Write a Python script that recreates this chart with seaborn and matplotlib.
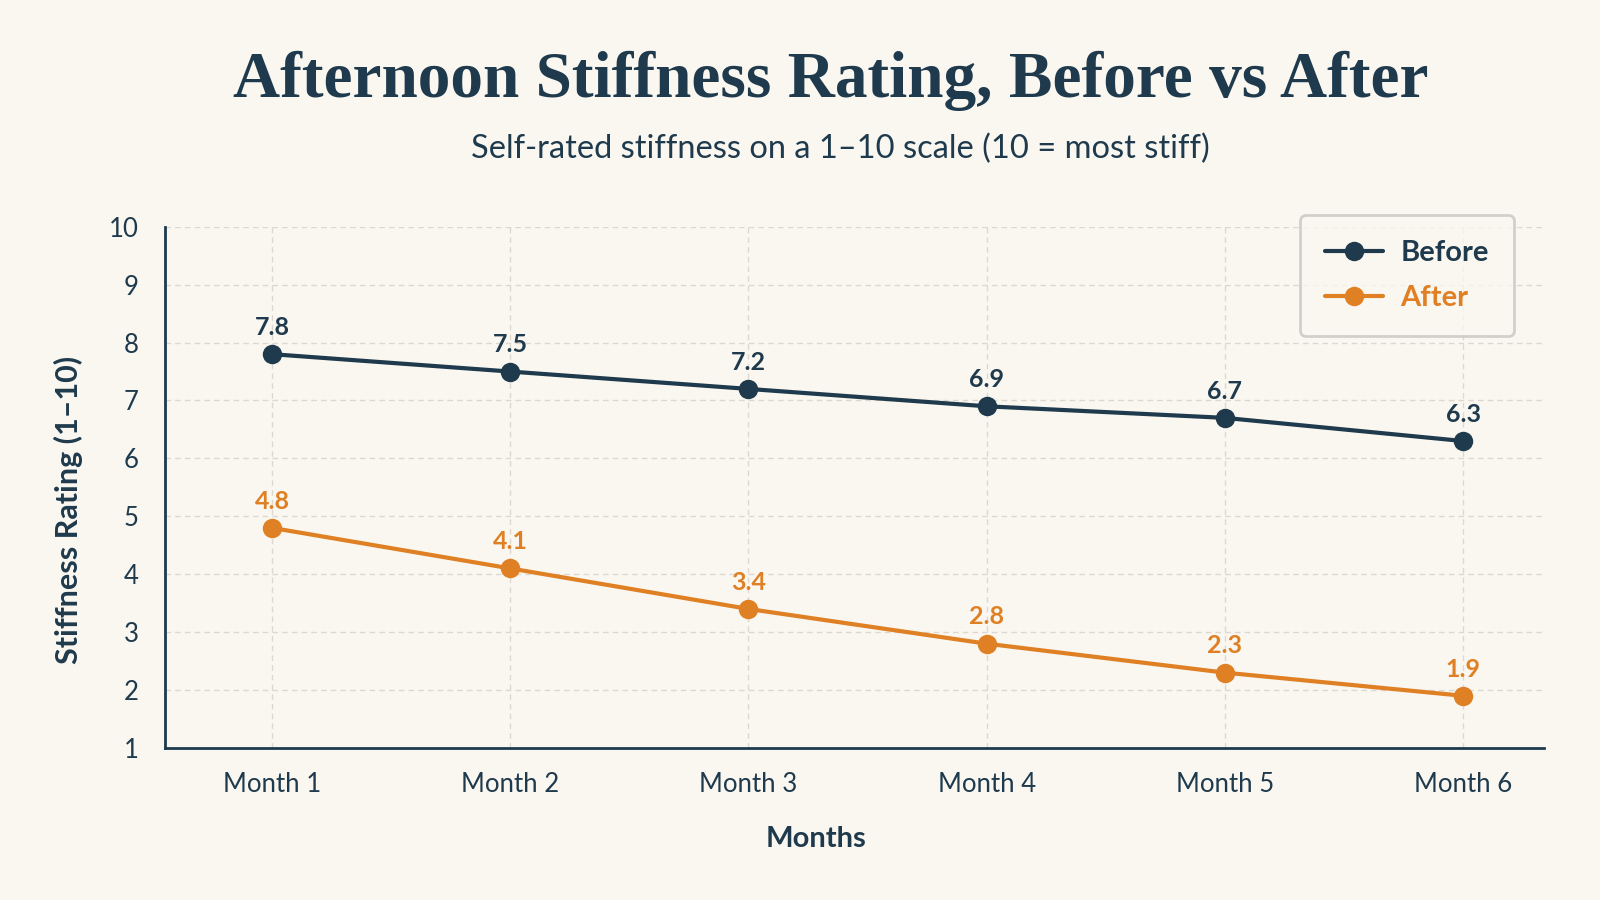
import matplotlib
matplotlib.use("Agg")
import matplotlib.pyplot as plt
import seaborn as sns
import pandas as pd

# data
months = ["Month 1", "Month 2", "Month 3", "Month 4", "Month 5", "Month 6"]
before = [7.8, 7.5, 7.2, 6.9, 6.7, 6.3]
after = [4.8, 4.1, 3.4, 2.8, 2.3, 1.9]

navy = "#1e3a4c"
orange = "#e08024"
bg = "#faf7f1"

df = pd.DataFrame({
    "Month": months * 2,
    "Rating": before + after,
    "Series": ["Before"] * len(months) + ["After"] * len(months),
})

sns.set_theme(style="white")
plt.rcParams["font.family"] = ["Lato", "DejaVu Sans"]

fig = plt.figure(figsize=(16, 9), dpi=100, facecolor=bg)
ax = fig.add_axes([0.103, 0.169, 0.862, 0.579])
ax.set_facecolor(bg)

sns.lineplot(data=df, x="Month", y="Rating", hue="Series", sort=False,
             palette={"Before": navy, "After": orange}, marker="o",
             markersize=14, linewidth=3, markeredgewidth=0, ax=ax)

# value labels
for vals, col in [(before, navy), (after, orange)]:
    for i, v in enumerate(vals):
        ax.annotate(f"{v}", (i, v), textcoords="offset points", xytext=(0, 11),
                    ha="center", va="bottom", fontsize=18, fontweight="bold", color=col)

ax.set_ylim(1, 10)
ax.set_xlim(-0.45, 5.34)
ax.set_yticks(range(1, 11))
ax.grid(True, color="#dcd8d0", linestyle=(0, (4, 3)), linewidth=1)
for s in ["top", "right"]:
    ax.spines[s].set_visible(False)
for s in ["left", "bottom"]:
    ax.spines[s].set_color(navy)
    ax.spines[s].set_linewidth(2)

ax.tick_params(axis="both", colors=navy, labelsize=18.5, length=0)
ax.tick_params(axis="x", pad=17)
ax.tick_params(axis="y", pad=19)
ax.set_xlabel("Months", fontsize=21, fontweight="bold", color=navy)
ax.xaxis.set_label_coords(0.472, -0.15)
ax.set_ylabel("Stiffness Rating (1\u201310)", fontsize=22, fontweight="bold", color=navy)
ax.yaxis.set_label_coords(-0.059, 0.457)

leg = ax.legend(loc="upper right", bbox_to_anchor=(0.978, 1.022), borderaxespad=0,
                fontsize=21, frameon=True, handlelength=2.0, borderpad=0.85,
                labelspacing=0.65, handletextpad=0.6,
                facecolor=bg, edgecolor="#c8c6c2", fancybox=True)
leg.get_frame().set_linewidth(2)
for txt, col in zip(leg.get_texts(), [navy, orange]):
    txt.set_color(col)
    txt.set_fontweight("bold")

fig.text(0.519, 0.91, "Afternoon Stiffness Rating, Before vs After", ha="center", va="center",
         fontsize=47, fontweight="bold", color=navy, family=["Liberation Serif", "DejaVu Serif"])
fig.text(0.525, 0.835, "Self-rated stiffness on a 1\u201310 scale (10 = most stiff)", ha="center",
         va="center", fontsize=23.5, color=navy)

fig.savefig("out.png", dpi=100, facecolor=bg)
